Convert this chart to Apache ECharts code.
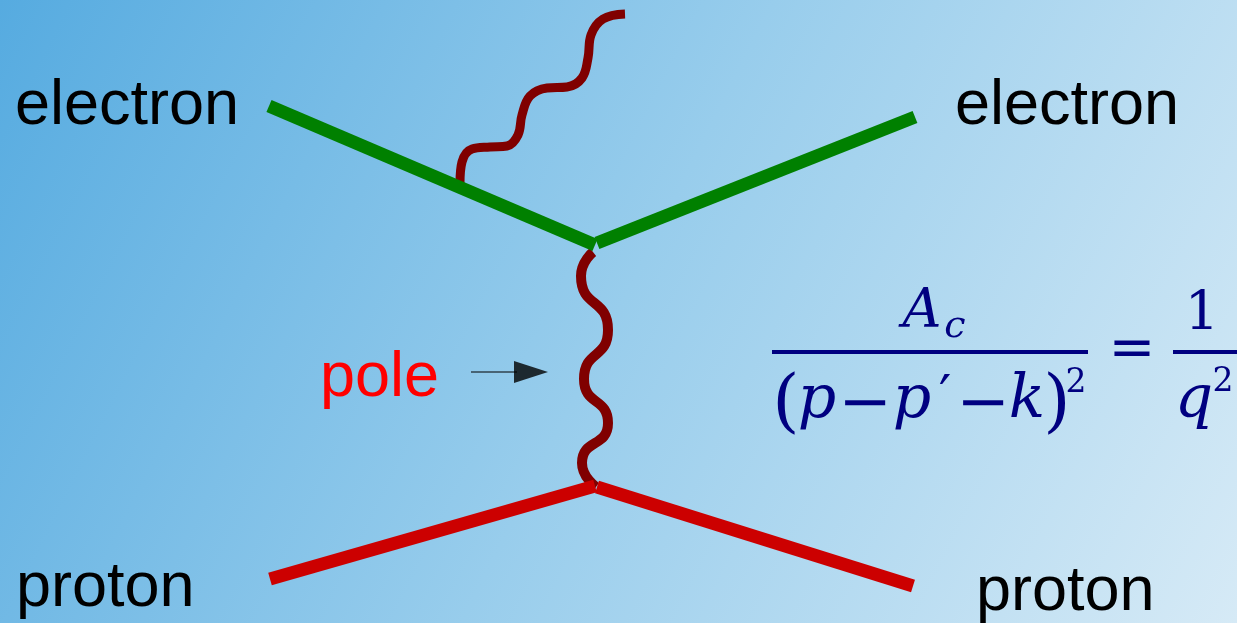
<!DOCTYPE html>
<html>
<head>
<meta charset="utf-8">
<script src="https://cdn.jsdelivr.net/npm/echarts@6/dist/echarts.min.js"></script>
<style>
html,body{margin:0;padding:0;}
#c{width:1237px;height:623px;}
</style>
</head>
<body>
<div id="c"></div>
<script>
// ---- data (diagram coordinates) ----
const electronIn  = [[269,106],[595,245]];
const electronOut = [[597,243],[915,117]];
const protonIn    = [[270,579],[595,486]];
const protonOut   = [[597,487],[913,586]];
const photonInternal = [[593,252],[581,276],[608,330],[584,379],[608,423],[582,463],[596,487]];
const photonExternal = [[460,183],[462,162],[472,149],[490,147],[507,146],[518,135],[522,115],[530,96],[547,88],[567,87],[582,78],[588,58],[591,35],[603,19],[625,14]];
const arrowShaft = [[471,372],[517,372]];
const arrowHead  = [[531,372]];
const particleLabels = ['electron','electron','proton','proton'];
const poleLabel = 'pole';
const formulaGlyphs = ['A','c','(','p','−','p','\u2032','−','k',')','2','=','1','q','2'];

const chart = echarts.init(document.getElementById('c'));

function txt(s, x, baseline, size, opts){
  opts = opts || {};
  const k = opts.serif ? 0.346 : 0.3465;
  return {
    type:'text', x:x, y: baseline - k*size, z:100,
    style:{
      text:s,
      fontFamily: opts.serif ? '"DejaVu Serif"' : '"Liberation Sans"',
      fontStyle: opts.italic ? 'italic' : 'normal',
      fontSize:size,
      fill: opts.fill || '#000',
      align: opts.align || 'left',
      verticalAlign:'middle'
    }
  };
}
const navy = '#000080';
const F = formulaGlyphs;
const S = {serif:true, fill:navy, align:'center'};
const I = {serif:true, italic:true, fill:navy, align:'center'};
const graphics = [
  txt(particleLabels[0], 15, 128, 63),
  txt(particleLabels[1], 955, 128, 63),
  txt(particleLabels[2], 16, 610, 63),
  txt(particleLabels[3], 976, 614, 63),
  txt(poleLabel, 320, 400, 63, {fill:'#ff0000'}),
  // formula
  txt(F[0], 922, 332, 54, I),
  txt(F[1], 955, 340, 38, I),
  txt(F[2], 786, 430, 70, S),
  txt(F[3], 817, 422, 60, I),
  txt(F[4], 865, 429, 64, S),
  txt(F[5], 912, 422, 60, I),
  txt(F[6], 945, 420, 56, S),
  txt(F[7], 983, 429, 64, S),
  txt(F[8], 1027, 422, 60, I),
  txt(F[9], 1057, 430, 70, S),
  txt(F[10], 1076, 395, 33, S),
  txt(F[11], 1132, 371, 56, S),
  txt(F[12], 1202, 335, 54, S),
  txt(F[13], 1194, 422, 60, I),
  txt(F[14], 1223, 394, 33, S),
  {type:'rect', shape:{x:772,y:350,width:316,height:4}, style:{fill:navy}, z:100},
  {type:'rect', shape:{x:1173,y:350,width:64,height:4}, style:{fill:navy}, z:100}
];

function seg(data, color, width, smooth){
  return {type:'line', data:data, symbol:'none', smooth:smooth||false, silent:true,
    lineStyle:{color:color, width:width, cap:'butt', join:'round'}, animation:false};
}

chart.setOption({
  backgroundColor:{type:'linear', x:0, y:0, x2:1, y2:1,
    colorStops:[{offset:0,color:'#56abe0'},{offset:0.5,color:'#98cdec'},{offset:1,color:'#d6eaf6'}]},
  animation:false,
  grid:{left:0,right:0,top:0,bottom:0},
  xAxis:{type:'value', min:0, max:1237, show:false},
  yAxis:{type:'value', min:0, max:623, inverse:true, show:false},
  series:[
    seg(photonInternal, '#800000', 10, 0.6),
    seg(photonExternal, '#800000', 9, 0.4),
    seg(electronIn, '#008000', 13),
    seg(electronOut, '#008000', 13),
    seg(protonIn, '#cc0000', 13),
    seg(protonOut, '#cc0000', 13),
    seg(arrowShaft, '#000000', 1.2),
    {type:'scatter', data:arrowHead, symbol:'triangle', symbolSize:[22,34], symbolRotate:-90,
     itemStyle:{color:'#000'}, silent:true}
  ],
  graphic:graphics
});
</script>
</body>
</html>
